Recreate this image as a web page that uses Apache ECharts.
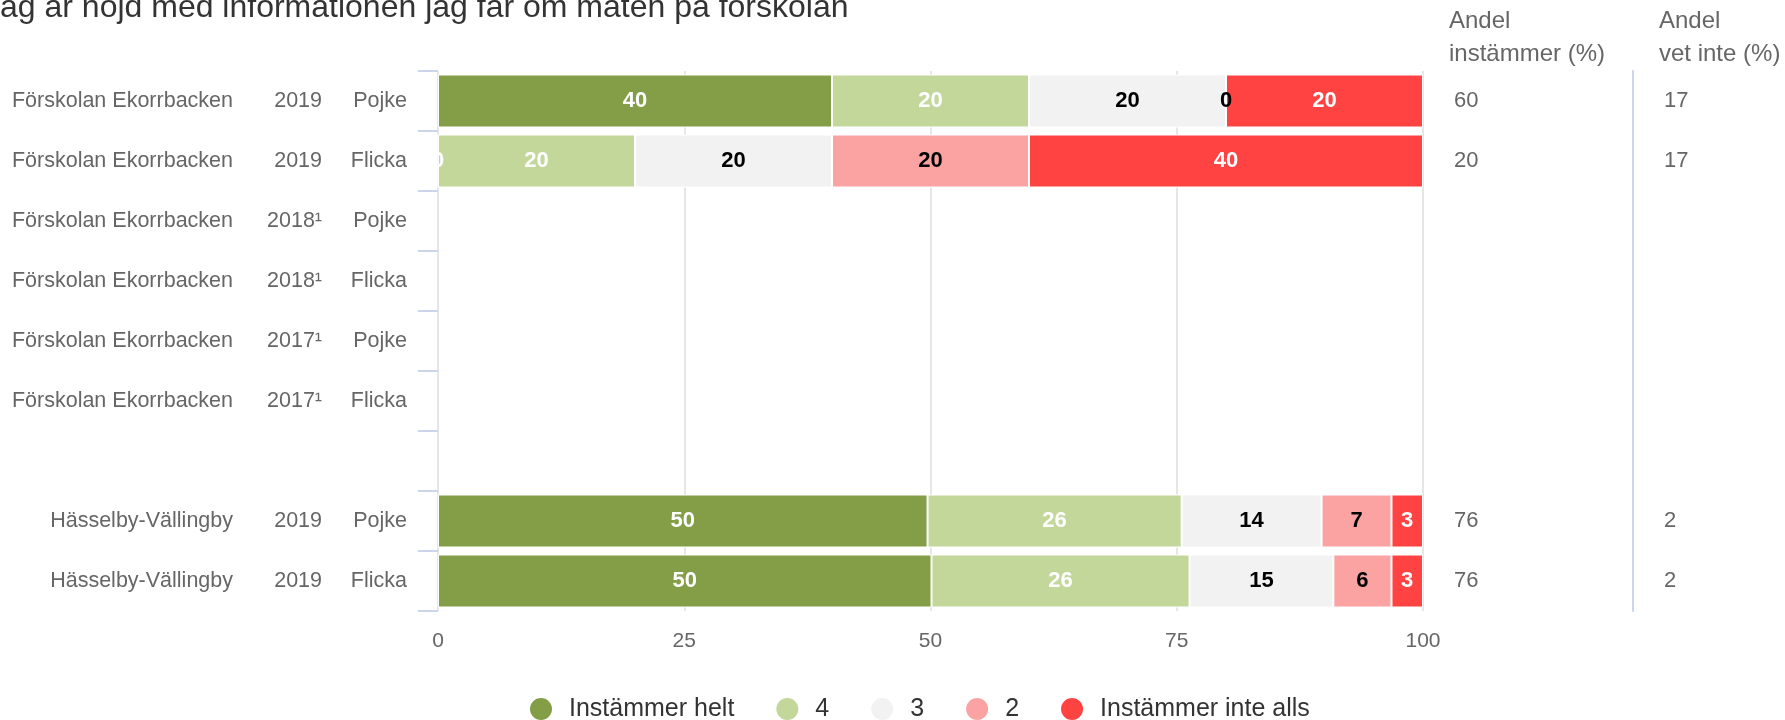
<!DOCTYPE html>
<html><head><meta charset="utf-8">
<script src="https://cdn.jsdelivr.net/npm/echarts@6/dist/echarts.min.js"></script>
<style>html,body{margin:0;padding:0;background:#fff}#c{width:1785px;height:720px}</style>
</head><body><div id="c"></div>
<script>
const chartTitle = 'Jag är nöjd med informationen jag får om maten på förskolan';
const units = ['Förskolan Ekorrbacken','Förskolan Ekorrbacken','Förskolan Ekorrbacken','Förskolan Ekorrbacken','Förskolan Ekorrbacken','Förskolan Ekorrbacken','','Hässelby-Vällingby','Hässelby-Vällingby'];
const years = ['2019','2019','2018¹','2018¹','2017¹','2017¹','','2019','2019'];
const genders = ['Pojke','Flicka','Pojke','Flicka','Pojke','Flicka','','Pojke','Flicka'];
const seriesNames = ['Instämmer helt','4','3','2','Instämmer inte alls'];
const instammerHelt = [40, 0, null, null, null, null, null, 49.7, 50.1];
const svar4 = [20, 20, null, null, null, null, null, 25.8, 26.2];
const svar3 = [20, 20, null, null, null, null, null, 14.2, 14.6];
const svar2 = [0, 20, null, null, null, null, null, 7.1, 5.9];
const instammerInteAlls = [20, 40, null, null, null, null, null, 3.2, 3.2];
const andelInstammer = [60, 20, null, null, null, null, null, 76, 76];
const andelVetInte = [17, 17, null, null, null, null, null, 2, 2];
const xTicks = [0, 25, 50, 75, 100];

const FONT = 'Liberation Sans, Arial, sans-serif';
const colors = ['#839E46', '#C4D79B', '#F2F2F2', '#FBA3A3', '#FF4343'];
const labelColors = ['#ffffff', '#ffffff', '#000000', '#000000', '#ffffff'];
const seriesData = [instammerHelt, svar4, svar3, svar2, instammerInteAlls];
const cats = units.map((u, i) => String(i));

const chart = echarts.init(document.getElementById('c'), null, {renderer: 'canvas'});
const option = {
  animation: false,
  backgroundColor: '#ffffff',
  color: colors,
  textStyle: {fontFamily: FONT},
  grid: {left: 438, right: 362, top: 71, bottom: 109, containLabel: false, outerBoundsMode: 'none'},
  graphic: [
    {type: 'text', x: -16, y: 8, style: {text: chartTitle, font: '32px ' + FONT, fill: '#333333', verticalAlign: 'middle'}},
    {type: 'text', x: 1449, y: 5, style: {text: 'Andel\ninstämmer (%)', font: '24px ' + FONT, fill: '#666666', lineHeight: 33}},
    {type: 'text', x: 1659, y: 5, style: {text: 'Andel\nvet inte (%)', font: '24px ' + FONT, fill: '#666666', lineHeight: 33}}
  ],
  legend: {
    data: seriesNames,
    left: 528, top: 696, padding: 0,
    icon: 'circle', itemWidth: 24, itemHeight: 24, itemGap: 40,
    textStyle: {fontSize: 25, color: '#333333', fontFamily: FONT, padding: [0, 0, 0, 11]}
  },
  xAxis: {
    type: 'value', min: 0, max: 100, interval: 25,
    axisLine: {show: false}, axisTick: {show: false},
    axisLabel: {fontSize: 21, color: '#666666', margin: 20, fontFamily: FONT,
      formatter: v => xTicks.includes(v) ? String(v) : ''},
    splitLine: {show: true, lineStyle: {color: '#e6e6e6', width: 2}}
  },
  yAxis: [
    {
      type: 'category', inverse: true, data: cats, position: 'left',
      axisLine: {show: false},
      axisTick: {show: true, interval: 0, length: 20, lineStyle: {color: '#ccd6eb', width: 2}},
      axisLabel: {
        interval: 0, margin: 31,
        formatter: (v, i) => units[i] ? `{u|${units[i]}}{y|${years[i]}}{g|${genders[i]}}` : '',
        rich: {
          u: {width: 230, align: 'right', fontSize: 21.5, color: '#666666', fontFamily: FONT},
          y: {width: 89, align: 'right', fontSize: 21.5, color: '#666666', fontFamily: FONT},
          g: {width: 85, align: 'right', fontSize: 21.5, color: '#666666', fontFamily: FONT}
        }
      }
    },
    {
      type: 'category', inverse: true, data: cats, position: 'right', offset: 0,
      axisLine: {show: false}, axisTick: {show: false},
      axisLabel: {interval: 0, margin: 31, fontSize: 22, color: '#666666', fontFamily: FONT,
        formatter: (v, i) => andelInstammer[i] == null ? '' : String(andelInstammer[i])}
    },
    {
      type: 'category', inverse: true, data: cats, position: 'right', offset: 210,
      axisLine: {show: true, onZero: false, lineStyle: {color: '#ccd6eb', width: 2}}, axisTick: {show: false},
      axisLabel: {interval: 0, margin: 31, fontSize: 22, color: '#666666', fontFamily: FONT,
        formatter: (v, i) => andelVetInte[i] == null ? '' : String(andelVetInte[i])}
    }
  ],
  series: seriesNames.map((name, k) => ({
    name: name, type: 'bar', stack: 'total', yAxisIndex: 0, xAxisIndex: 0,
    barWidth: 53,
    data: seriesData[k],
    itemStyle: {color: colors[k], borderColor: '#ffffff', borderWidth: 1},
    label: {show: true, position: 'inside', color: labelColors[k], fontSize: 22, fontWeight: 'bold', fontFamily: FONT,
      formatter: p => String(Math.round(p.value))}
  }))
};
chart.setOption(option);
</script>
</body></html>
